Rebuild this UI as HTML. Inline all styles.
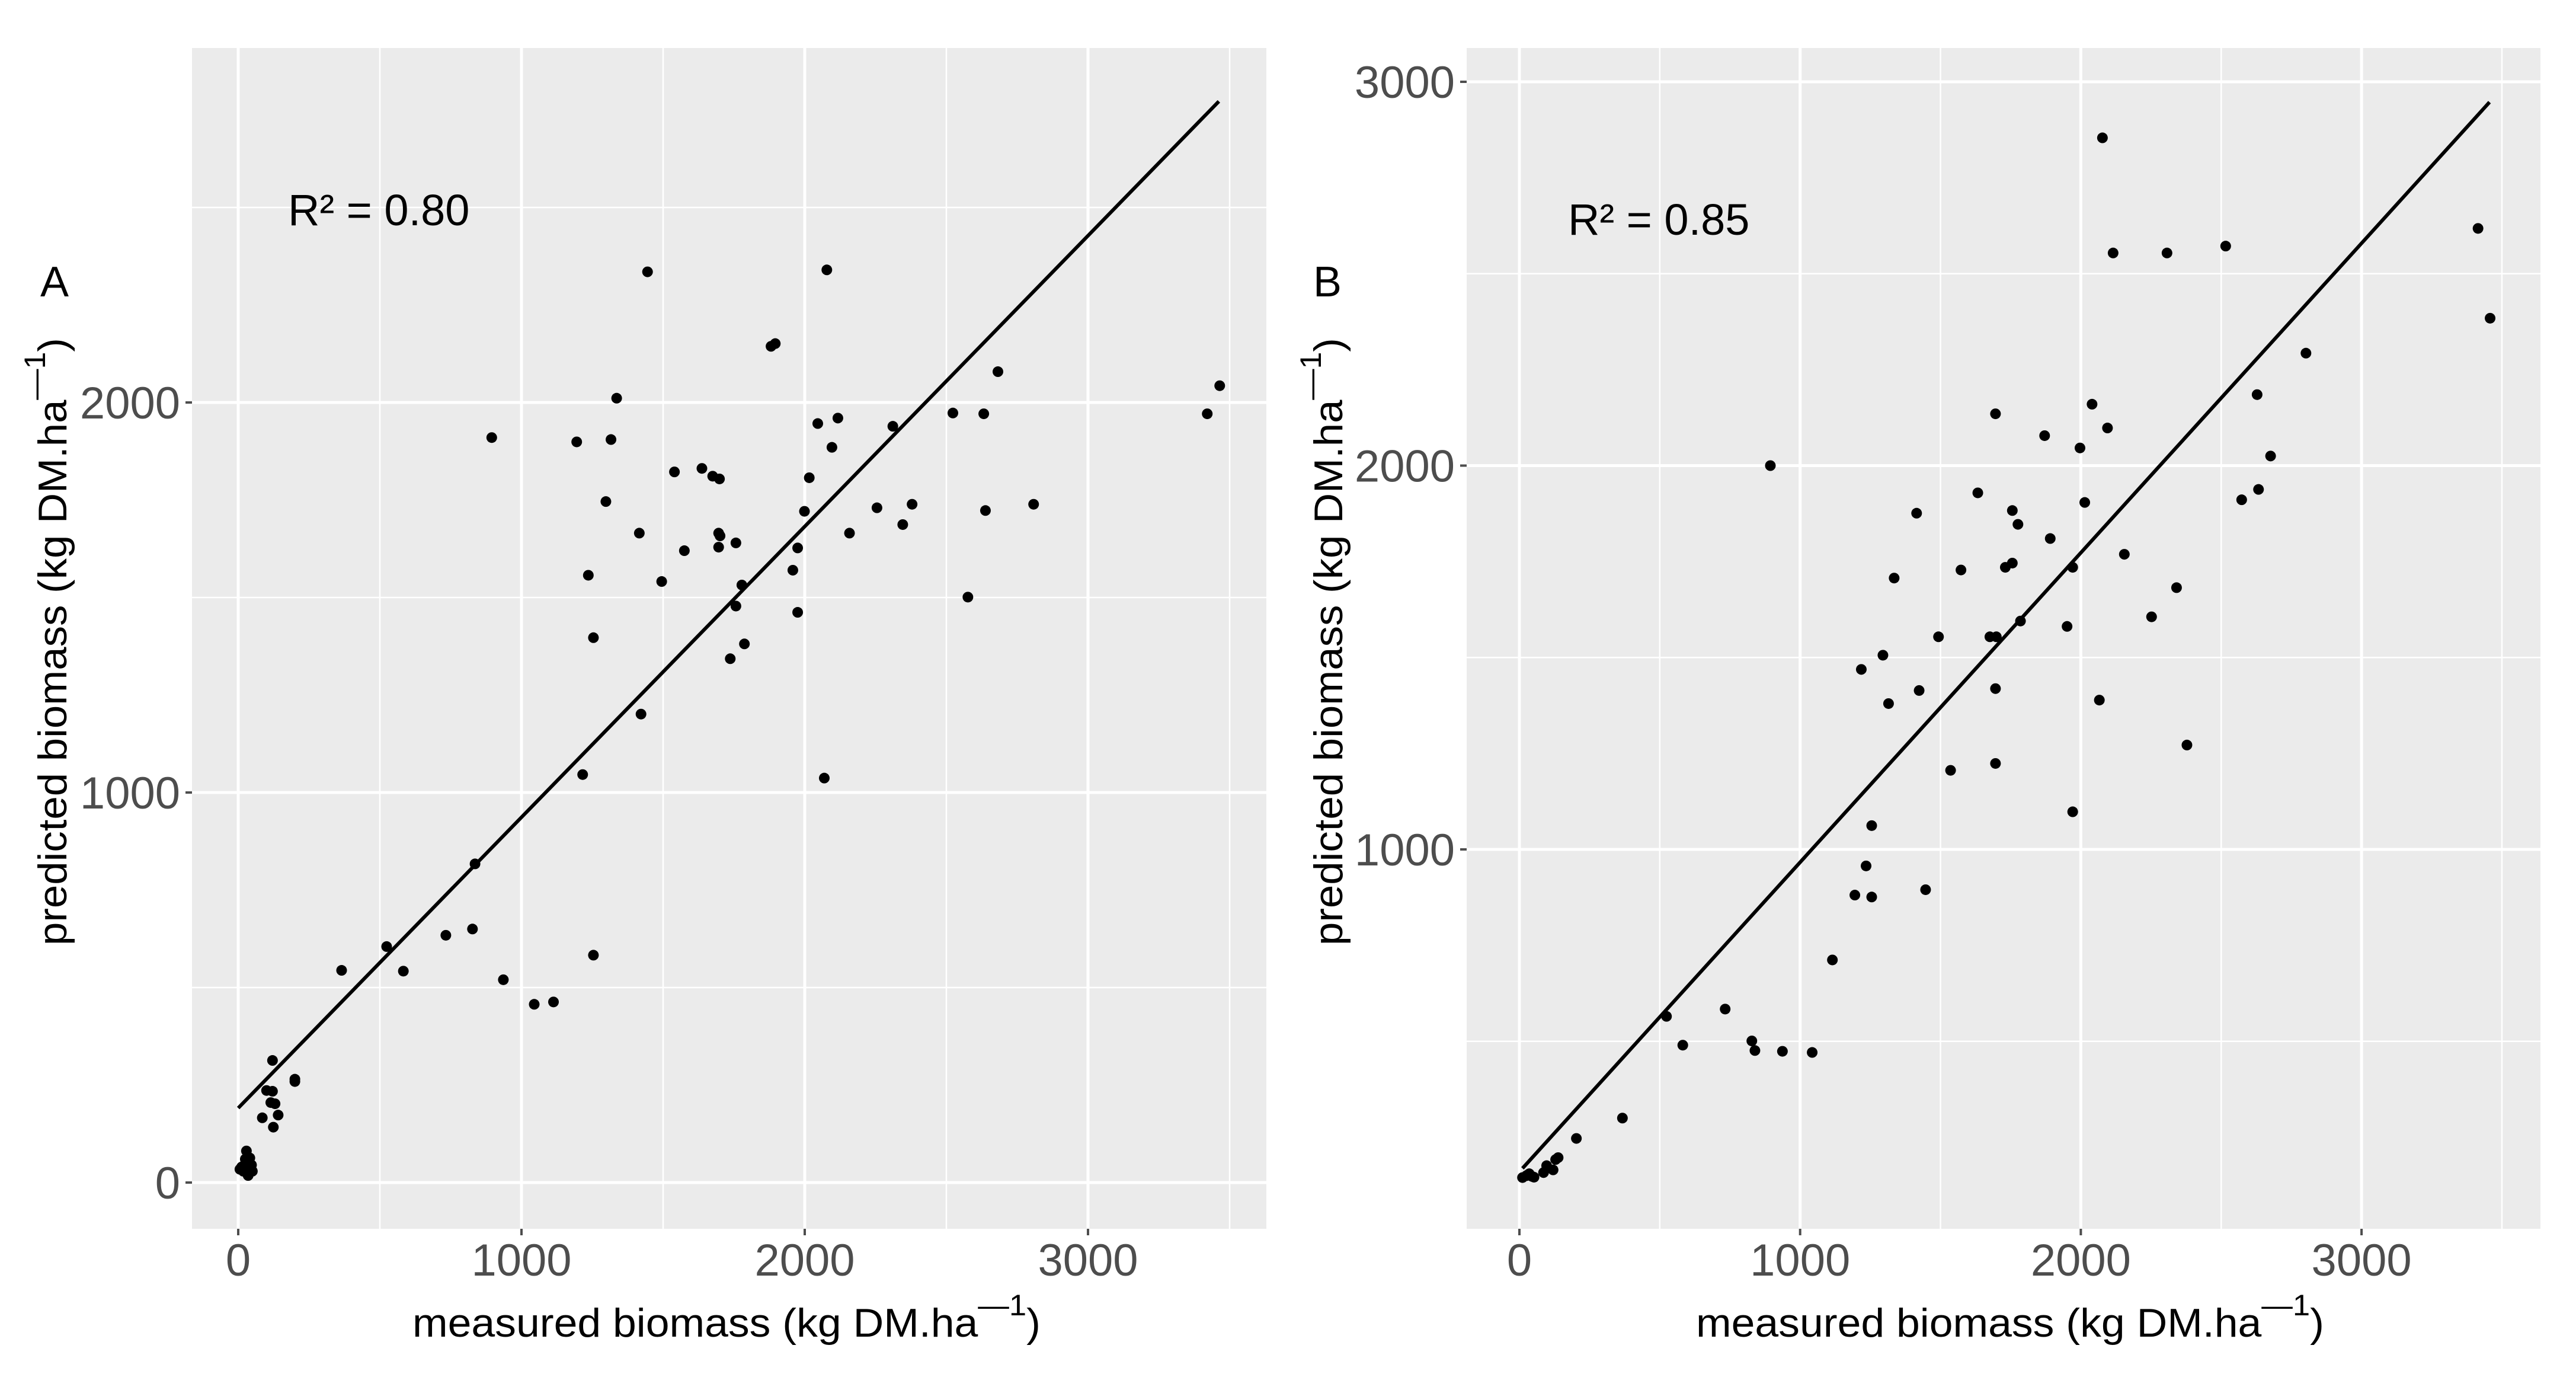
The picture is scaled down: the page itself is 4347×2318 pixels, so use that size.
<!DOCTYPE html>
<html><head><meta charset="utf-8"><style>
html,body{margin:0;padding:0;background:#fff;}
svg{display:block;font-family:"Liberation Sans",Arial,sans-serif;}
</style></head><body>
<svg id="chart" width="4347" height="2318" viewBox="0 0 4347 2318" xmlns="http://www.w3.org/2000/svg">
<rect width="4347" height="2318" fill="#fff"/>
</svg>
<script>
// Panel A data
const measuredA = [1445,2078,1881,1896,2682,3465,3421,1336,895,1195,1316,2523,2632,2046,2117,2311,2096,1540,1637,1675,1699,2016,1298,1999,2638,2255,2379,2808,1416,1696,1701,2158,2346,1575,1696,1757,1975,1236,1495,1958,1778,1757,1975,2576,1254,1787,1737,1422,1216,2069,836,827,733,524,365,583,1254,936,1045,1113,121,100,121,115,130,85,141,124,200,200,12,29,41,18,35,47,32,6,50,25,40];
const predictedA = [2335,2340,2144,2151,2079,2043,1971,2011,1910,1899,1905,1973,1971,1946,1960,1939,1885,1822,1831,1811,1804,1807,1746,1721,1723,1730,1739,1739,1665,1665,1658,1665,1687,1620,1629,1640,1627,1557,1541,1570,1532,1478,1462,1501,1397,1381,1343,1201,1046,1037,817,650,634,605,544,542,583,520,457,463,313,236,234,205,202,166,173,142,265,259,40,81,63,29,18,45,52,34,29,60,35];
const fitA = [[0,191],[3462,2772]];
// Panel B data
const measuredB = [2077,2115,2307,2516,3415,3458,2802,2628,2040,1696,2095,1871,1997,894,2676,1633,2014,2573,2633,1415,1756,1776,1891,2155,1573,1731,1756,1971,1335,2341,2252,1785,1951,1493,1676,1699,1295,1218,1424,1696,1315,2066,2378,1536,1696,1971,1255,1235,1195,1255,1447,1115,524,733,582,828,839,937,1043,367,203,129,138,120,97,86,11,25,35,45,30,52];
const predictedB = [2854,2554,2554,2572,2618,2384,2293,2185,2160,2135,2098,2078,2046,2000,2025,1929,1904,1911,1938,1876,1883,1847,1810,1769,1728,1735,1746,1735,1707,1682,1606,1595,1581,1554,1554,1554,1506,1469,1414,1419,1380,1389,1272,1206,1224,1098,1062,957,881,876,895,712,565,584,490,501,476,474,471,300,247,192,197,165,176,158,145,150,155,148,152,146];
const fitB = [[11,169],[3456,2947]];
const xTicks = [0,1000,2000,3000];
const xMinor = [500,1500,2500,3500];
const yTicksA = [0,1000,2000];
const yMinorA = [500,1500,2500];
const yTicksB = [1000,2000,3000];
const yMinorB = [500,1500,2500];

const NS="http://www.w3.org/2000/svg";
const svg=document.getElementById('chart');
function mk(tag,attrs,parent){const e=document.createElementNS(NS,tag);for(const k in attrs)e.setAttribute(k,attrs[k]);(parent||svg).appendChild(e);return e;}

function panel(cfg){
  const g=mk('g',{});
  
  
  const sx=v=>cfg.x0+v*cfg.xs;
  const sy=v=>cfg.y0-v*cfg.ys;
  const bg=mk('rect',{x:cfg.L,y:cfg.T,width:cfg.R-cfg.L,height:cfg.B-cfg.T,fill:'#ebebeb'},g);
  
  
  cfg.yMinor.forEach(v=>{const l=mk('line',{x1:cfg.L,x2:cfg.R,y1:sy(v),y2:sy(v),stroke:'#fff','stroke-width':2.5},g);
    
    });
  xMinor.forEach(v=>{const l=mk('line',{x1:sx(v),x2:sx(v),y1:cfg.T,y2:cfg.B,stroke:'#fff','stroke-width':2.5},g);
    
    });
  cfg.yTicks.forEach(v=>{
    const l=mk('line',{x1:cfg.L,x2:cfg.R,y1:sy(v),y2:sy(v),stroke:'#fff','stroke-width':5},g);
    
    
    const t=mk('line',{x1:cfg.L-11,x2:cfg.L,y1:sy(v),y2:sy(v),stroke:'#4d4d4d','stroke-width':4},g);
    
    
    const tx=mk('text',{x:cfg.L-20,y:sy(v)+27,'text-anchor':'end','font-size':76,fill:'#4d4d4d'},g);
    tx.textContent=v;
    
    
  });
  xTicks.forEach(v=>{
    const l=mk('line',{x1:sx(v),x2:sx(v),y1:cfg.T,y2:cfg.B,stroke:'#fff','stroke-width':5},g);
    
    
    const t=mk('line',{x1:sx(v),x2:sx(v),y1:cfg.B,y2:cfg.B+11,stroke:'#4d4d4d','stroke-width':4},g);
    
    
    const tx=mk('text',{x:sx(v),y:2152,'text-anchor':'middle','font-size':76,fill:'#4d4d4d'},g);
    tx.textContent=v;
    
    
  });
  const fl=mk('line',{x1:sx(cfg.fit[0][0]),y1:sy(cfg.fit[0][1]),x2:sx(cfg.fit[1][0]),y2:sy(cfg.fit[1][1]),stroke:'#000','stroke-width':6},g);
  
  
  cfg.mx.forEach((m,i)=>{
    const c=mk('circle',{cx:sx(m),cy:sy(cfg.py[i]),r:9,fill:'#000'},g);
    
    
  });
  const r2=mk('text',{x:cfg.r2x,y:cfg.r2y,'font-size':74,fill:'#000'},g);
  r2.textContent=cfg.r2;
  
  
  const pl=mk('text',{x:cfg.lx,y:cfg.ly,'font-size':72,fill:'#000','text-anchor':'middle'},g);
  pl.textContent=cfg.letter;
  
  
  const xt=mk('text',{x:cfg.xtx,y:2255,'font-size':68,fill:'#000',textLength:1060,lengthAdjust:'spacingAndGlyphs'},g);
  xt.innerHTML='measured biomass (kg DM.ha<tspan dy="-36" font-size="50">—1</tspan><tspan dy="36">)</tspan>';
  
  
  const yt=mk('text',{x:0,y:0,'font-size':68,fill:'#000',textLength:1025,lengthAdjust:'spacingAndGlyphs',transform:`translate(${cfg.ytx},1595) rotate(-90)`},g);
  yt.innerHTML='predicted biomass (kg DM.ha<tspan dy="-36" font-size="50">—1</tspan><tspan dy="36">)</tspan>';
  
  
}
panel({id:'panel-a',L:324,R:2137,T:81,B:2073,x0:402,xs:0.478,y0:1995,ys:0.658,
  yTicks:yTicksA,yMinor:yMinorA,mx:measuredA,py:predictedA,fit:fitA,
  r2:'R² = 0.80',r2x:486,r2y:380,letter:'A',lx:92,ly:500,xtx:696,ytx:112});
panel({id:'panel-b',L:2475,R:4287,T:81,B:2073,x0:2564,xs:0.4737,y0:2080.5,ys:0.6475,
  yTicks:yTicksB,yMinor:yMinorB,mx:measuredB,py:predictedB,fit:fitB,
  r2:'R² = 0.85',r2x:2646,r2y:396,letter:'B',lx:2240,ly:500,xtx:2862,ytx:2265});
</script>
</body></html>
